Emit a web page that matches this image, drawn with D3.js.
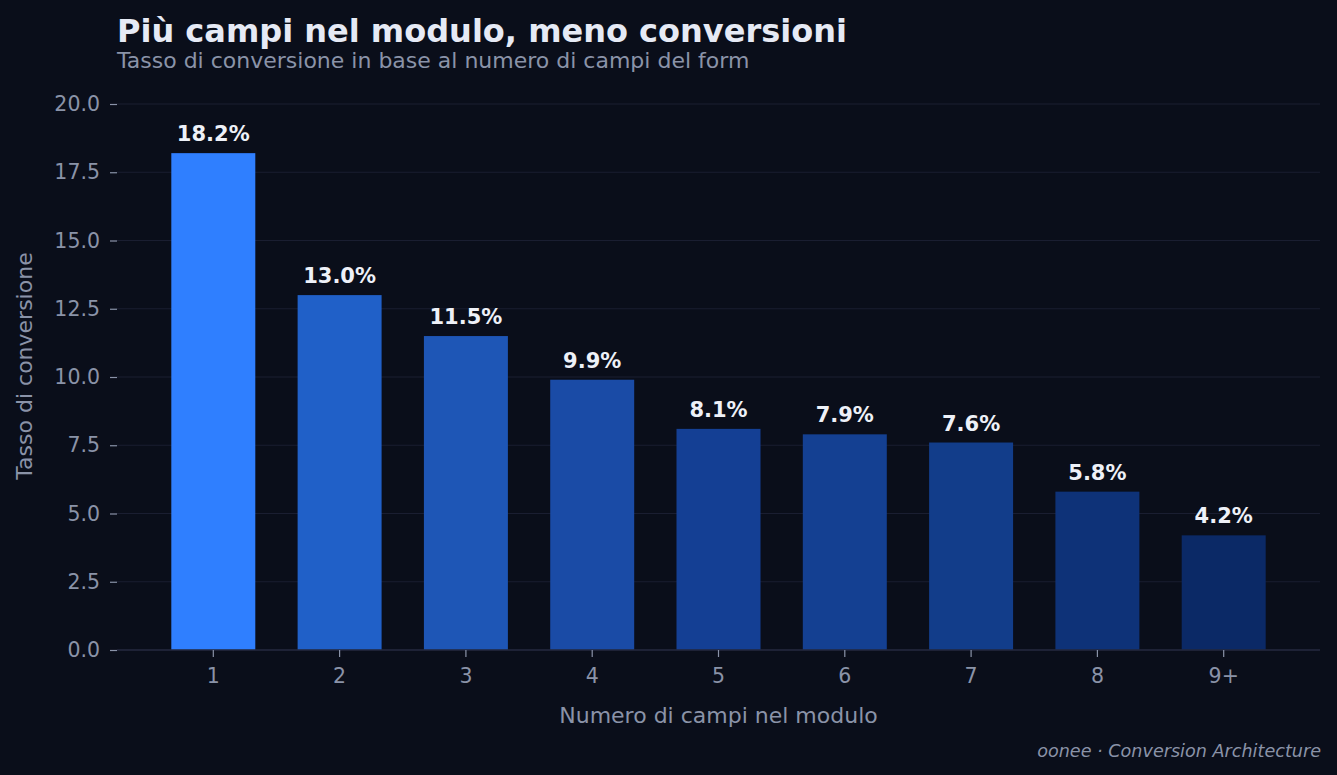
<!DOCTYPE html>
<html>
<head>
<meta charset="utf-8">
<script src="https://cdn.jsdelivr.net/npm/d3@7"></script>
<style>
  html, body { margin: 0; padding: 0; background: #0a0e1a; }
  svg { display: block; font-family: "DejaVu Sans", sans-serif; }
</style>
</head>
<body>
<svg id="chart" width="1337" height="775"></svg>
<script>
const categories = ["1", "2", "3", "4", "5", "6", "7", "8", "9+"];
const rates = [18.2, 13.0, 11.5, 9.9, 8.1, 7.9, 7.6, 5.8, 4.2];
const barColors = ["#2f7fff", "#2060c8", "#1e56b6", "#1a4ba6", "#143f94", "#144092", "#123d8a", "#0e3278", "#0b2966"];
const yTicks = [0, 2.5, 5, 7.5, 10, 12.5, 15, 17.5, 20];

const svg = d3.select("#chart");
const W = 1337, H = 775;
const margin = { top: 104, right: 17, bottom: 125, left: 117 };
const width = W - margin.left - margin.right;
const height = H - margin.top - margin.bottom;
const muted = "#8a93a8";

svg.append("rect").attr("width", W).attr("height", H).attr("fill", "#0a0e1a");

const x = d3.scaleBand()
  .domain(categories)
  .range([0, width])
  .paddingInner(0.335)
  .paddingOuter(0.43);

const y = d3.scaleLinear()
  .domain([0, 20])
  .range([height, 0]);

const g = svg.append("g")
  .attr("transform", `translate(${margin.left},${margin.top})`);

// gridlines
g.append("g")
  .selectAll("line")
  .data(yTicks)
  .enter().append("line")
  .attr("x1", 0).attr("x2", width)
  .attr("y1", d => y(d)).attr("y2", d => y(d))
  .attr("stroke", "#1a1e31")
  .attr("stroke-width", 1.2);

// bars
g.selectAll(".bar")
  .data(rates)
  .enter().append("rect")
  .attr("class", "bar")
  .attr("x", (d, i) => x(categories[i]))
  .attr("y", d => y(d))
  .attr("width", x.bandwidth())
  .attr("height", d => height - y(d))
  .attr("fill", (d, i) => barColors[i]);

// value labels
g.selectAll(".val")
  .data(rates)
  .enter().append("text")
  .attr("class", "val")
  .attr("x", (d, i) => x(categories[i]) + x.bandwidth() / 2)
  .attr("y", d => y(d) - 12)
  .attr("text-anchor", "middle")
  .attr("fill", "#eef1f8")
  .attr("font-size", 21)
  .attr("font-weight", "bold")
  .text(d => d.toFixed(1) + "%");

// bottom spine
g.append("line")
  .attr("x1", 0).attr("x2", width)
  .attr("y1", height).attr("y2", height)
  .attr("stroke", "#23273d")
  .attr("stroke-width", 1.5);

// y axis
const yAxis = g.append("g")
  .call(d3.axisLeft(y).tickValues(yTicks).tickFormat(d3.format(".1f")).tickSize(7).tickPadding(10));
yAxis.select(".domain").remove();
yAxis.selectAll("line").attr("stroke", muted).attr("stroke-width", 1.2);
yAxis.selectAll("text").attr("fill", muted).attr("font-size", 20.5)
  .style("font-family", "DejaVu Sans, sans-serif");

// x axis
const xAxis = g.append("g")
  .attr("transform", `translate(0,${height})`)
  .call(d3.axisBottom(x).tickSize(7).tickPadding(11));
xAxis.select(".domain").remove();
xAxis.selectAll("line").attr("stroke", muted).attr("stroke-width", 1.2);
xAxis.selectAll("text").attr("fill", muted).attr("font-size", 20.5)
  .style("font-family", "DejaVu Sans, sans-serif");

// axis labels
svg.append("text")
  .attr("x", margin.left + width / 2)
  .attr("y", 723)
  .attr("text-anchor", "middle")
  .attr("fill", muted)
  .attr("font-size", 22)
  .text("Numero di campi nel modulo");

svg.append("text")
  .attr("transform", "translate(31.5,366) rotate(-90)")
  .attr("text-anchor", "middle")
  .attr("fill", muted)
  .attr("font-size", 22)
  .text("Tasso di conversione");

// title + subtitle
svg.append("text")
  .attr("x", 117).attr("y", 42)
  .attr("fill", "#e6eaf5")
  .attr("font-size", 32)
  .attr("font-weight", "bold")
  .text("Più campi nel modulo, meno conversioni");

svg.append("text")
  .attr("x", 117).attr("y", 68)
  .attr("fill", muted)
  .attr("font-size", 22)
  .text("Tasso di conversione in base al numero di campi del form");

// footer
svg.append("text")
  .attr("x", 1321).attr("y", 757)
  .attr("text-anchor", "end")
  .attr("fill", muted)
  .attr("font-size", 17.6)
  .attr("font-style", "italic")
  .text("oonee · Conversion Architecture");
</script>
</body>
</html>
